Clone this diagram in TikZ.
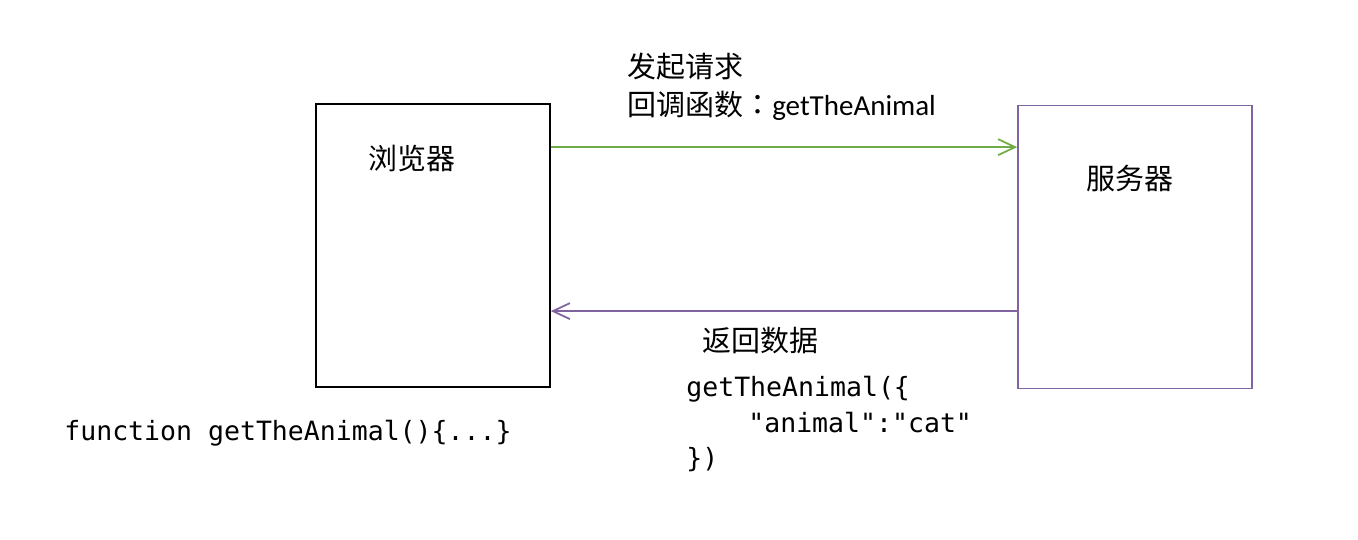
\documentclass[tikz,border=0pt]{standalone}
\usepackage{fontspec}
\setmainfont{Carlito}
\setmonofont{DejaVu Sans Mono}
\newfontfamily\cjk{Noto Sans CJK SC}
\newfontfamily\cjktc{Noto Sans CJK TC}
\usetikzlibrary{arrows.meta}
\definecolor{reqgreen}{RGB}{112,173,71}
\definecolor{respurple}{RGB}{128,100,162}
\tikzset{
  box/.style={draw, line width=1pt, minimum width=4.68cm, minimum height=5.66cm},
  lbl/.style={anchor=base west, inner sep=0pt, font=\fontsize{16.5}{20}\selectfont},
  code/.style={anchor=base west, inner sep=0pt, font=\fontsize{15.1}{18}\selectfont\ttfamily},
  arr/.style={line width=1pt, -{Straight Barb[length=3.4mm,width=3.2mm]}}
}
\begin{document}
\begin{tikzpicture}[x=0.02cm,y=-0.02cm]
            \useasboundingbox (0,0) rectangle (1358,540);

            \node[box] (browser) at (433,245.5) {};
            \node[box, draw=respurple] (server) at (1135,247) {};

            \node[lbl] (browser_t) at (368,170) {\cjk 浏览器};
            \node[lbl] (server_t) at (1086,190) {\cjk 服务器};

            \node[lbl] (req_1) at (627,78) {\cjk 发起请求};
            \node[lbl] (req_2) at (627,116) {{\cjk 回调函数}{\cjktc ：}getTheAnimal};
            \node[lbl] (res_1) at (702,351) {\cjk 返回数据};

            \node[code] (fn) at (64,440) {function getTheAnimal()\{...\}};
            \node[code] (cb_1) at (686,396) {getTheAnimal(\{};
            \node[code] (cb_2) at (748,432) {"animal":"cat"};
            \node[code] (cb_3) at (686,467) {\})};

            \draw[arr, reqgreen] ([yshift=-0.88cm]browser.north east) -- ([yshift=-0.88cm]browser.north east -| server.west);
            \draw[arr, respurple] ([yshift=-4.16cm]browser.north east -| server.west) -- ([yshift=-4.16cm]browser.north east);
        \end{tikzpicture}
\end{document}
